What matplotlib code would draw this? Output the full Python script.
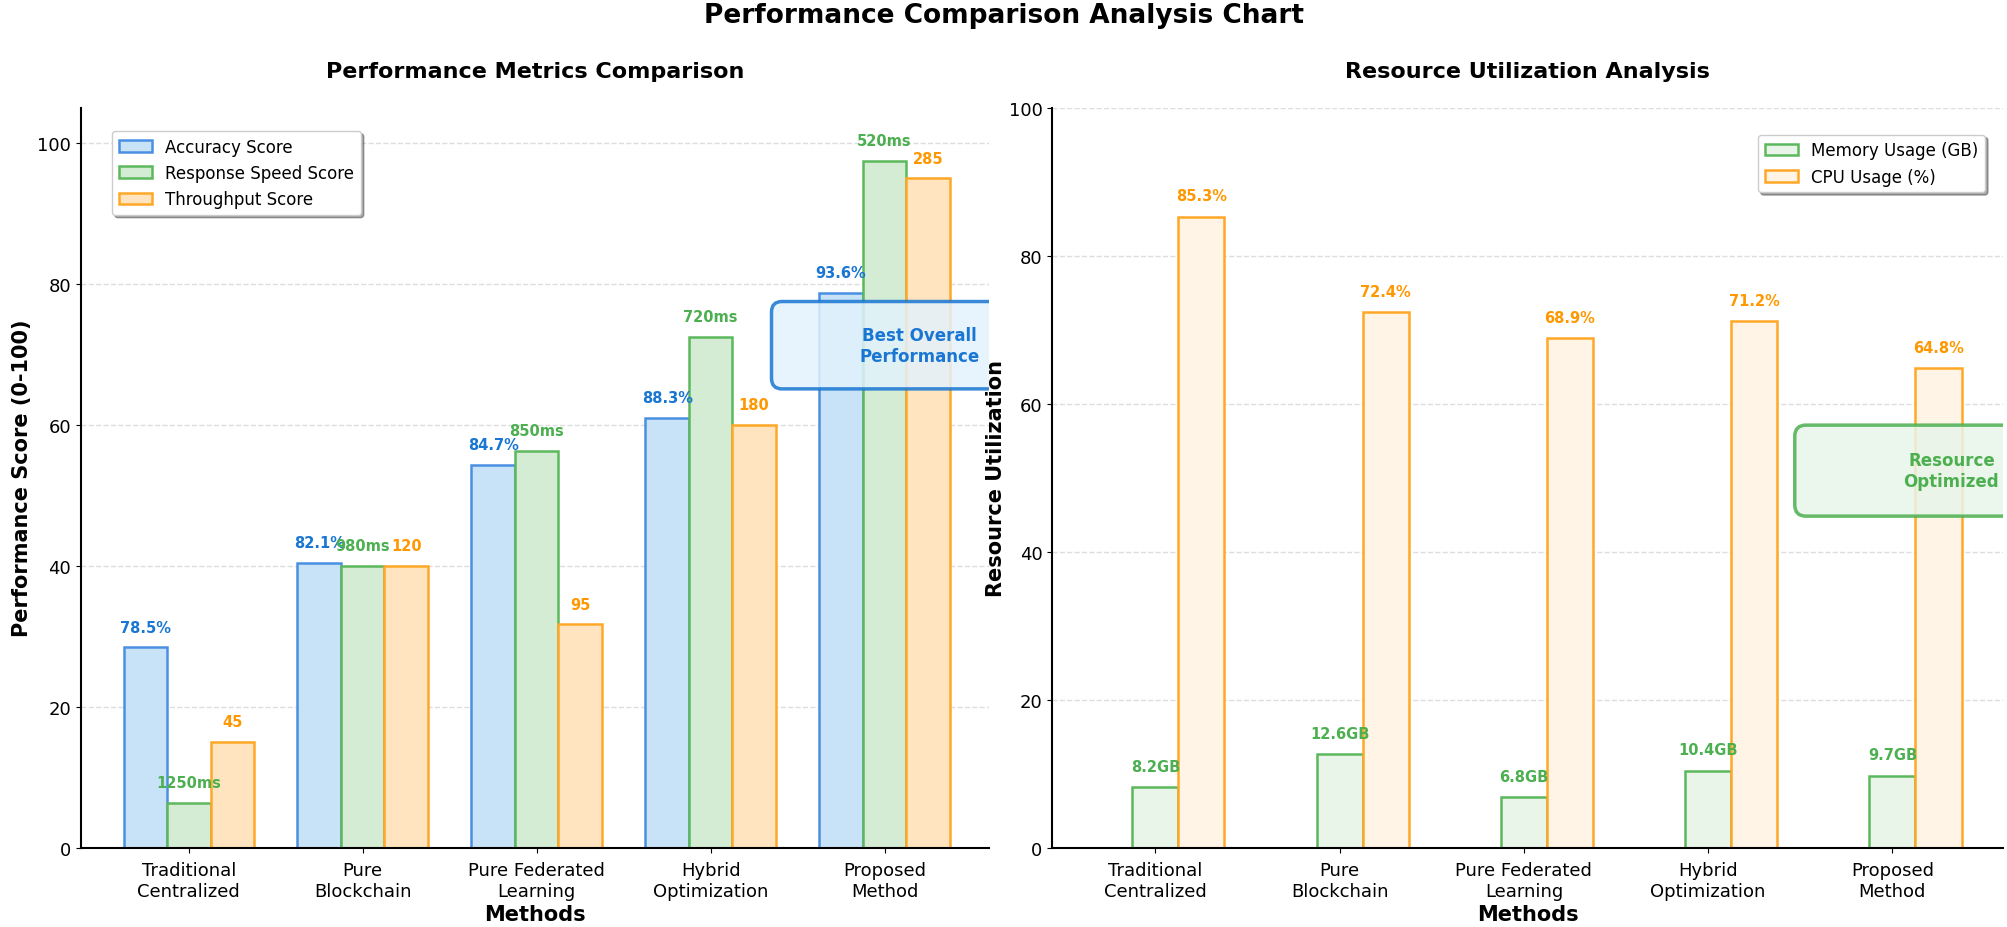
import numpy as np
import matplotlib.pyplot as plt
from matplotlib.patches import FancyBboxPatch

methods = ['Traditional\nCentralized', 'Pure\nBlockchain', 'Pure Federated\nLearning',
           'Hybrid\nOptimization', 'Proposed\nMethod']

accuracy_score = [28.4, 40.4, 54.3, 61.0, 78.7]
accuracy_labels = ['78.5%', '82.1%', '84.7%', '88.3%', '93.6%']
speed_score = [6.3, 40.0, 56.3, 72.5, 97.5]
speed_labels = ['1250ms', '980ms', '850ms', '720ms', '520ms']
throughput_score = [15.0, 40.0, 31.7, 60.0, 95.0]
throughput_labels = ['45', '120', '95', '180', '285']

memory_gb = [8.2, 12.6, 6.8, 10.4, 9.7]
cpu_pct = [85.3, 72.4, 68.9, 71.2, 64.8]

BLUE_F, BLUE_E, BLUE_T = '#C8E3F8', '#4A90E2', '#1976D2'
GREEN_F, GREEN_E, GREEN_T = '#D4ECD4', '#5CB85C', '#4CAF50'
ORANGE_F, ORANGE_E, ORANGE_T = '#FFE4BF', '#FFA726', '#FF9800'

plt.rcParams['font.family'] = 'DejaVu Sans'

fig = plt.figure(figsize=(20.08, 9.28), dpi=100)
ax1 = fig.add_axes([0.0403, 0.0856, 0.4522, 0.7972])
ax2 = fig.add_axes([0.524, 0.0856, 0.4735, 0.7972])

fig.suptitle('Performance Comparison Analysis Chart', fontsize=19, fontweight='bold', y=0.997)

x = np.arange(len(methods))
w = 0.25

# left: performance scores -----------------------------------------------------
series = [(accuracy_score, accuracy_labels, BLUE_F, BLUE_E, BLUE_T, 'Accuracy Score', -w),
          (speed_score, speed_labels, GREEN_F, GREEN_E, GREEN_T, 'Response Speed Score', 0),
          (throughput_score, throughput_labels, ORANGE_F, ORANGE_E, ORANGE_T, 'Throughput Score', w)]
for vals, labs, fc, ec, tc, name, off in series:
    ax1.bar(x + off, vals, w, facecolor=fc, edgecolor=ec, linewidth=1.8, label=name, zorder=2)
    for xi, v, lab in zip(x + off, vals, labs):
        ax1.text(xi, v + 1.8, lab, ha='center', va='bottom', fontsize=10.5,
                 fontweight='bold', color=tc, zorder=3)

ax1.set_ylim(0, 105)
ax1.set_xlim(-0.62, 4.6)
ax1.set_xticks(x)
ax1.set_xticklabels(methods, fontsize=13)
ax1.tick_params(axis='x', pad=6)
ax1.tick_params(axis='y', labelsize=13)
ax1.set_xlabel('Methods', fontsize=15, fontweight='bold', labelpad=3)
ax1.set_ylabel('Performance Score (0-100)', fontsize=15, fontweight='bold')
ax1.set_title('Performance Metrics Comparison', fontsize=16, fontweight='bold', pad=22)
ax1.grid(axis='y', linestyle='--', color='#DDDDDD', linewidth=1, zorder=0)
ax1.set_axisbelow(True)
ax1.legend(loc='upper left', bbox_to_anchor=(0.025, 0.98), fontsize=12, shadow=True,
           fancybox=True, framealpha=1)

box1 = FancyBboxPatch((3.35, 65.1), 2.0, 12.4, boxstyle='round,pad=0,rounding_size=0.06',
                      mutation_aspect=24.7, facecolor='#E3F2FD', edgecolor=BLUE_T,
                      linewidth=2.5, alpha=0.85, zorder=4)
ax1.add_patch(box1)
ax1.text(4.2, 71.3, 'Best Overall\nPerformance', ha='center', va='center', fontsize=12,
         fontweight='bold', color=BLUE_T, zorder=5)

# right: resource usage -------------------------------------------------------
ax2.bar(x, memory_gb, w, facecolor='#E9F5E9', edgecolor=GREEN_E, linewidth=1.8,
        label='Memory Usage (GB)', zorder=2)
ax2.bar(x + w, cpu_pct, w, facecolor='#FFF4E5', edgecolor=ORANGE_E, linewidth=1.8,
        label='CPU Usage (%)', zorder=2)
for xi, v in zip(x, memory_gb):
    ax2.text(xi, v + 1.8, '{}GB'.format(v), ha='center', va='bottom', fontsize=10.5,
             fontweight='bold', color=GREEN_T, zorder=3)
for xi, v in zip(x + w, cpu_pct):
    ax2.text(xi, v + 1.8, '{}%'.format(v), ha='center', va='bottom', fontsize=10.5,
             fontweight='bold', color=ORANGE_T, zorder=3)

ax2.set_ylim(0, 100)
ax2.set_xlim(-0.56, 4.6)
ax2.set_xticks(x)
ax2.set_xticklabels(methods, fontsize=13)
ax2.tick_params(axis='x', pad=6)
ax2.tick_params(axis='y', labelsize=13)
ax2.set_xlabel('Methods', fontsize=15, fontweight='bold', labelpad=3)
ax2.set_ylabel('Resource Utilization', fontsize=15, fontweight='bold', labelpad=2)
ax2.set_title('Resource Utilization Analysis', fontsize=16, fontweight='bold', pad=22)
ax2.grid(axis='y', linestyle='--', color='#DDDDDD', linewidth=1, zorder=0)
ax2.set_axisbelow(True)
ax2.legend(loc='upper right', bbox_to_anchor=(0.99, 0.975), fontsize=12, shadow=True,
           fancybox=True, framealpha=1)

box2 = FancyBboxPatch((3.47, 44.8), 2.0, 12.3, boxstyle='round,pad=0,rounding_size=0.06',
                      mutation_aspect=25.0, facecolor='#E8F5E9', edgecolor=GREEN_T,
                      linewidth=2.5, alpha=0.85, zorder=4)
ax2.add_patch(box2)
ax2.text(4.32, 51.0, 'Resource\nOptimized', ha='center', va='center', fontsize=12,
         fontweight='bold', color=GREEN_T, zorder=5)

for ax in (ax1, ax2):
    ax.spines['top'].set_visible(False)
    ax.spines['right'].set_visible(False)
    ax.spines['left'].set_linewidth(1.5)
    ax.spines['bottom'].set_linewidth(1.5)

plt.savefig('out.png', dpi=100)
